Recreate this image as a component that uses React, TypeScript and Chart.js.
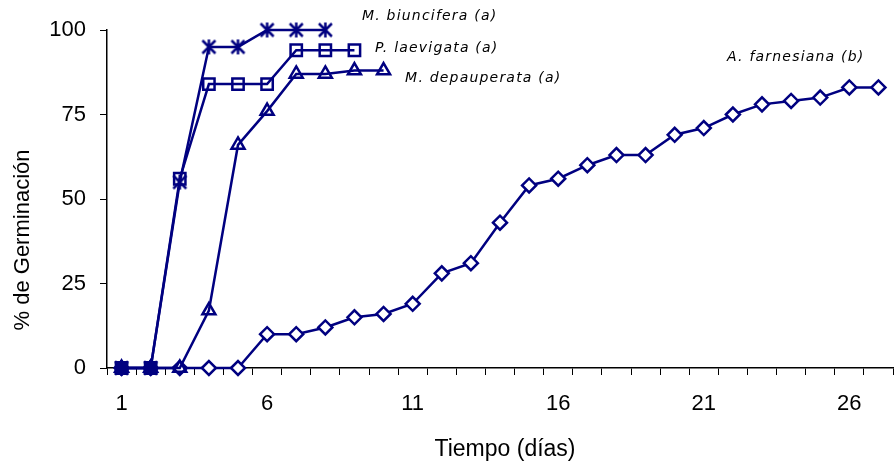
import React, { useEffect, useRef } from "react";
import { Chart, registerables } from "chart.js";

Chart.register(...registerables);

const days = Array.from({ length: 27 }, (_, i) => String(i + 1));
const biuncifera = [0, 0, 55, 95, 95, 100, 100, 100];
const laevigata = [0, 0, 56, 84, 84, 84, 94, 94, 94];
const depauperata = [0, 0, 0, 17, 66, 76, 87, 87, 88, 88];
const farnesiana = [0, 0, 0, 0, 0, 10, 10, 12, 15, 16, 19, 28, 31, 43, 54, 56, 60, 63, 63, 69, 71, 75, 78, 79, 80, 83, 83];
const yTicks = [0, 25, 50, 75, 100];
const seriesNames = ["M. biuncifera (a)", "P. laevigata (a)", "M. depauperata (a)", "A. farnesiana (b)"];
// label anchors: [category index (fractional), value]
const labelX = [8.26, 8.71, 9.74, 20.8];
const labelY = [104.1, 94.7, 85.8, 92];
const xTitle = "Tiempo (días)";
const yTitle = "% de Germinación";

const NAVY = "#000080";
const FONT = "'Liberation Sans', Arial";

function makeAsterisk(): HTMLCanvasElement {
  const c = document.createElement("canvas");
  c.width = 17;
  c.height = 17;
  const ctx = c.getContext("2d")!;
  ctx.strokeStyle = NAVY;
  ctx.lineWidth = 2.5;
  ctx.beginPath();
  ctx.moveTo(8.5, 1);
  ctx.lineTo(8.5, 16);
  ctx.moveTo(2, 2);
  ctx.lineTo(15, 15);
  ctx.moveTo(15, 2);
  ctx.lineTo(2, 15);
  ctx.stroke();
  return c;
}

const labelPlugin = {
  id: "seriesLabels",
  afterDatasetsDraw(chart: any) {
    const { ctx, scales } = chart;
    ctx.save();
    ctx.font = "italic 14px 'DejaVu Sans'";
    try { (ctx as any).letterSpacing = "1.2px"; } catch (e) {}
    ctx.fillStyle = "#000";
    ctx.textAlign = "left";
    ctx.textBaseline = "middle";
    seriesNames.forEach((name, i) => {
      const x = scales.x.getPixelForValue(labelX[i]);
      const y = scales.y.getPixelForValue(labelY[i]);
      ctx.fillText(name, x, y);
    });
    try { (ctx as any).letterSpacing = "0px"; } catch (e) {}
    // axis titles
    ctx.font = `23px ${FONT}`;
    ctx.textAlign = "center";
    ctx.fillText(xTitle, 505, 450);
    ctx.translate(23, 240);
    ctx.rotate(-Math.PI / 2);
    ctx.font = `22px ${FONT}`;
    ctx.fillText(yTitle, 0, 0);
    ctx.restore();
  },
};

export default function App() {
  const ref = useRef<HTMLCanvasElement>(null);
  useEffect(() => {
    document.body.style.margin = "0";
    const asterisk = makeAsterisk();
    const common = {
      borderColor: NAVY,
      borderWidth: 2.5,
      pointBorderColor: NAVY,
      pointBorderWidth: 2.5,
      fill: false,
      tension: 0,
    };
    const chart = new Chart(ref.current!, {
      type: "line",
      data: {
        labels: days,
        datasets: [
          { ...common, label: seriesNames[0], data: biuncifera, pointStyle: asterisk as any, pointRadius: 8 },
          {
            ...common,
            label: seriesNames[1],
            data: laevigata,
            pointStyle: "rect",
            pointRadius: 8,
            pointBackgroundColor: (c: any) => (c.dataIndex < 2 ? NAVY : "rgba(0,0,0,0)"),
          },
          { ...common, label: seriesNames[2], data: depauperata, pointStyle: "triangle", pointRadius: 7.5, pointBackgroundColor: "rgba(0,0,0,0)" },
          { ...common, label: seriesNames[3], data: farnesiana, pointStyle: "rectRot", pointRadius: 7, pointBackgroundColor: "#fff" },
        ],
      },
      options: {
        responsive: false,
        animation: false,
        layout: { autoPadding: false, padding: { top: 30, right: 3, left: 0, bottom: 0 } },
        plugins: { legend: { display: false }, tooltip: { enabled: false } },
        datasets: { line: { clip: false } as any },
        scales: {
          x: {
            type: "category",
            offset: true,
            grid: { offset: true, drawOnChartArea: false, drawTicks: true, tickLength: 7, color: "#000", lineWidth: 1 },
            border: { color: "#000", width: 1.5 },
            ticks: {
              autoSkip: false,
              maxRotation: 0,
              padding: 0,
              color: "#000",
              font: { family: FONT, size: 22, lineHeight: "58px" },
              callback: (_v: any, i: number) => (i % 5 === 0 ? days[i] : ""),
            },
            afterFit: (s: any) => {
              s.height = 95;
              s.paddingRight = 0;
              s.paddingLeft = 0;
            },
          },
          y: {
            min: 0,
            max: 100,
            afterBuildTicks: (s: any) => {
              s.ticks = yTicks.map((v) => ({ value: v }));
            },
            grid: { drawOnChartArea: false, drawTicks: true, tickLength: 7, color: "#000", lineWidth: 1 },
            border: { color: "#000", width: 1.5 },
            ticks: {
              padding: 14,
              color: "#000",
              font: { family: FONT, size: 22 },
            },
            afterFit: (s: any) => {
              s.width = 107;
            },
          },
        },
      },
      plugins: [labelPlugin],
    });
    return () => chart.destroy();
  }, []);
  return (
    <div style={{ width: 896, height: 463 }}>
      <canvas ref={ref} width={896} height={463} style={{ display: "block" }} />
    </div>
  );
}
